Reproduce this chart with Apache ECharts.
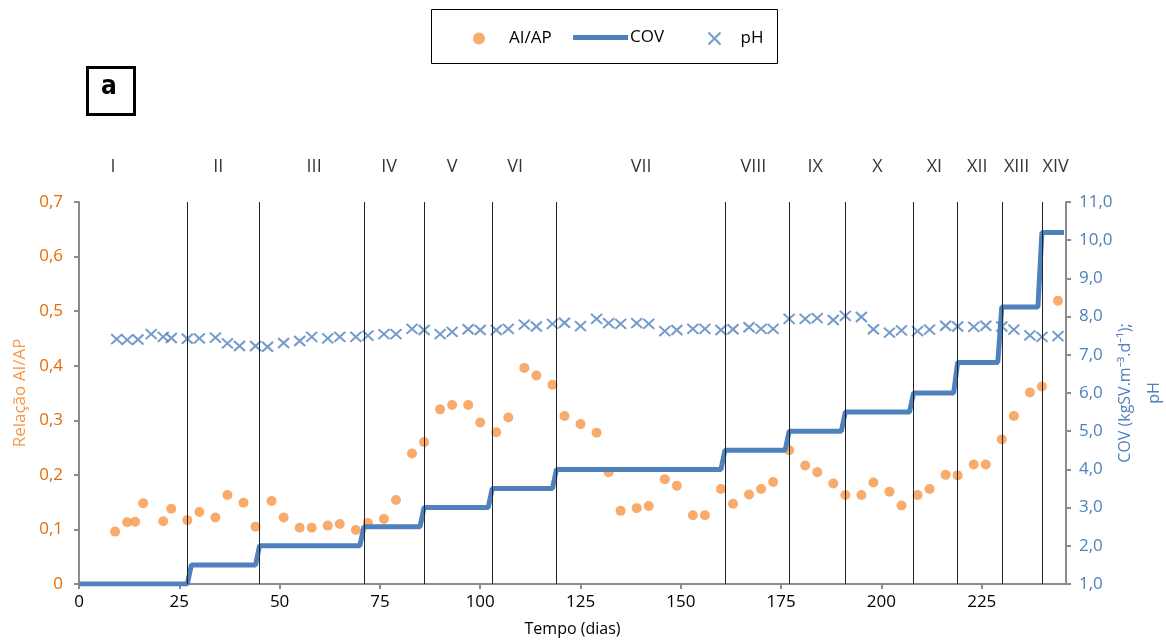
<!DOCTYPE html>
<html>
<head>
<meta charset="utf-8">
<script src="https://cdn.jsdelivr.net/npm/echarts@6/dist/echarts.min.js"></script>
<style>
  html, body { margin: 0; padding: 0; background: #fff; }
  #chart { width: 1166px; height: 641px; }
</style>
</head>
<body>
<div id="chart"></div>
<script>
// AI/AP ratio (left axis)
const aiDays = [9, 12, 14, 16, 21, 23, 27, 30, 34, 37, 41, 44, 48, 51, 55, 58, 62, 65, 69, 72,
  76, 79, 83, 86, 90, 93, 97, 100, 104, 107, 111, 114, 118, 121, 125, 129, 132, 135, 139, 142,
  146, 149, 153, 156, 160, 163, 167, 170, 173, 177, 181, 184, 188, 191, 195, 198, 202, 205, 209, 212,
  216, 219, 223, 226, 230, 233, 237, 240, 244];
const aiVals = [0.096, 0.113, 0.114, 0.148, 0.115, 0.138, 0.117, 0.132, 0.122, 0.163, 0.149, 0.105, 0.152, 0.122, 0.103, 0.103, 0.107, 0.110, 0.099, 0.112,
  0.119, 0.154, 0.239, 0.260, 0.320, 0.328, 0.328, 0.296, 0.278, 0.305, 0.396, 0.382, 0.365, 0.308, 0.293, 0.277, 0.205, 0.134, 0.139, 0.143,
  0.192, 0.180, 0.126, 0.126, 0.174, 0.147, 0.164, 0.174, 0.187, 0.245, 0.217, 0.205, 0.184, 0.163, 0.163, 0.186, 0.169, 0.144, 0.163, 0.174,
  0.200, 0.199, 0.219, 0.219, 0.265, 0.308, 0.351, 0.362, 0.519];

// pH (right axis)
const phDays = [9.4, 12, 14.7, 18, 21, 23, 27, 30, 34, 37, 40, 44, 47, 51, 55, 58, 62, 65, 69, 72,
  76, 79, 83, 86, 90, 93, 97, 100, 104, 107, 111, 114, 118, 121, 125, 129, 132, 135, 139, 142,
  146, 149, 153, 156, 160, 163, 167, 170, 173, 177, 181, 184, 188, 191, 195, 198, 202, 205, 209, 212,
  216, 219, 223, 226, 230, 233, 237, 240, 244];
const phVals = [7.41, 7.39, 7.40, 7.54, 7.47, 7.44, 7.42, 7.43, 7.45, 7.30, 7.23, 7.23, 7.21, 7.31, 7.36, 7.47, 7.43, 7.47, 7.47, 7.50,
  7.54, 7.54, 7.68, 7.65, 7.54, 7.60, 7.67, 7.65, 7.65, 7.68, 7.79, 7.74, 7.81, 7.84, 7.75, 7.94, 7.83, 7.81, 7.83, 7.81,
  7.62, 7.65, 7.68, 7.68, 7.65, 7.67, 7.72, 7.68, 7.68, 7.94, 7.94, 7.96, 7.91, 8.02, 7.99, 7.67, 7.58, 7.64, 7.62, 7.66,
  7.76, 7.74, 7.73, 7.76, 7.74, 7.66, 7.51, 7.47, 7.49];

// COV steps (right axis)
const covDays = [0, 27, 28, 44, 45, 70, 71, 85, 86, 102, 103, 118, 119, 160, 161, 176, 177, 190, 191, 207, 208, 218, 219, 229, 230, 239, 240, 245.5];
const covVals = [1, 1, 1.5, 1.5, 2, 2, 2.5, 2.5, 3, 3, 3.5, 3.5, 4, 4, 4.5, 4.5, 5, 5, 5.5, 5.5, 6, 6, 6.8, 6.8, 8.25, 8.25, 10.2, 10.2];

// phase boundaries and labels
const phaseBounds = [27, 45, 71, 86, 103, 119, 161, 177, 191, 208, 219, 230, 240];
const phaseNames = ['I', 'II', 'III', 'IV', 'V', 'VI', 'VII', 'VIII', 'IX', 'X', 'XI', 'XII', 'XIII', 'XIV'];
const phaseLabelDays = [8.5, 34.7, 58.6, 77.3, 93, 108.7, 140.1, 168.1, 183.5, 199, 213.2, 223.9, 233.7, 243.4];

const FONT = 'Open Sans';
const ORANGE = '#F79646';
const BLUE = '#4F81BD';
const AXIS_GRAY = '#8C8C8C';
const CROSS = 'path://M0,0L10,10M10,0L0,10';
const comma = (v, d) => v.toFixed(d).replace('.', ',');

const legendText = { fontFamily: FONT, fontSize: 17, color: '#000' };

const chart = echarts.init(document.getElementById('chart'));

chart.setOption({
  animation: false,
  textStyle: { fontFamily: FONT },
  grid: { left: 79, right: 100, top: 202, bottom: 57, containLabel: false, outerBoundsMode: 'none' },
  legend: [
    { left: 473, top: 30, padding: 0, itemWidth: 12, itemHeight: 12,
      textStyle: Object.assign({ padding: [0, 0, 0, 19] }, legendText),
      data: [{ name: 'AI/AP', icon: 'circle' }] },
    { left: 573, top: 29, padding: 0, itemWidth: 55, itemHeight: 14,
      textStyle: Object.assign({ padding: [0, 0, 0, -3] }, legendText),
      data: [{ name: 'COV', icon: 'path://M0,0H55V5H0Z' }] },
    { left: 706, top: 30, padding: 0, itemWidth: 12, itemHeight: 12,
      textStyle: Object.assign({ padding: [0, 0, 0, 15] }, legendText),
      data: [{ name: 'pH', icon: CROSS }] }
  ],
  xAxis: {
    type: 'value', min: 0, max: 246, interval: 25,
    name: 'Tempo (dias)', nameLocation: 'middle', nameGap: 37,
    nameTextStyle: { fontSize: 16, color: '#000' },
    axisLine: { lineStyle: { color: AXIS_GRAY, width: 2 } },
    axisTick: { show: true, length: 5, lineStyle: { color: AXIS_GRAY, width: 2 } },
    axisLabel: { fontSize: 17, color: '#000', margin: 10, showMaxLabel: false },
    splitLine: { show: false }
  },
  yAxis: [{
    type: 'value', min: 0, max: 0.7, interval: 0.1,
    name: 'Relação AI/AP', nameLocation: 'middle', nameGap: 50, nameRotate: 90,
    nameMoveOverlap: false,
    nameTextStyle: { fontSize: 17, color: ORANGE },
    axisLine: { show: true, lineStyle: { color: AXIS_GRAY, width: 2 } },
    axisTick: { show: true, length: 5, lineStyle: { color: AXIS_GRAY, width: 2 } },
    axisLabel: { fontSize: 17, color: '#E46C0A', margin: 16, formatter: v => v === 0 ? '0' : comma(v, 1) },
    splitLine: { show: false }
  }, {
    type: 'value', min: 1, max: 11, interval: 1, position: 'right',
    name: 'COV (kgSV.m⁻³.d⁻¹);\npH', nameLocation: 'middle', nameGap: 45, nameRotate: 90,
    nameMoveOverlap: false,
    nameTextStyle: { fontSize: 16, color: BLUE, lineHeight: 29 },
    axisLine: { show: true, lineStyle: { color: AXIS_GRAY, width: 2 } },
    axisTick: { show: true, length: 5, lineStyle: { color: AXIS_GRAY, width: 2 } },
    axisLabel: { fontSize: 17, color: BLUE, margin: 13, formatter: v => comma(v, 1) },
    splitLine: { show: false }
  }],
  graphic: [
    { type: 'rect', left: 429, top: 7, shape: { width: 346, height: 54 },
      style: { fill: 'none', stroke: '#000', lineWidth: 1 } },
    { type: 'rect', left: 86, top: 66, shape: { width: 47, height: 47 },
      style: { fill: '#fff', stroke: '#000', lineWidth: 3 } },
    { type: 'text', left: 101, top: 74,
      style: { text: 'a', font: 'bold 26px "DejaVu Sans Condensed", "DejaVu Sans"', fill: '#000' } }
  ],
  series: [
    {
      name: 'AI/AP', type: 'scatter', yAxisIndex: 0, z: 2,
      symbol: 'circle', symbolSize: 10,
      itemStyle: { color: ORANGE },
      data: aiDays.map((d, i) => [d, aiVals[i]])
    },
    {
      name: 'COV', type: 'line', yAxisIndex: 1, z: 3,
      showSymbol: false, symbol: 'none', smooth: false,
      lineStyle: { color: BLUE, width: 5 },
      itemStyle: { color: BLUE },
      data: covDays.map((d, i) => [d, covVals[i]]),
      markLine: {
        silent: true, symbol: 'none',
        label: { show: false },
        lineStyle: { color: '#222', width: 1, type: 'solid' },
        data: phaseBounds.map(d => ({ xAxis: d }))
      }
    },
    {
      name: 'pH', type: 'scatter', yAxisIndex: 1, z: 4,
      symbol: CROSS, symbolSize: [11, 10],
      itemStyle: { color: 'none', borderColor: BLUE, borderWidth: 2 },
      data: phDays.map((d, i) => [d, phVals[i]])
    },
    {
      name: 'phases', type: 'scatter', yAxisIndex: 0, silent: true,
      symbolSize: 0,
      label: {
        show: true, position: 'top', distance: 26,
        fontSize: 18, color: '#000',
        formatter: p => phaseNames[p.dataIndex]
      },
      data: phaseLabelDays.map(d => [d, 0.7])
    }
  ]
});
</script>
</body>
</html>
